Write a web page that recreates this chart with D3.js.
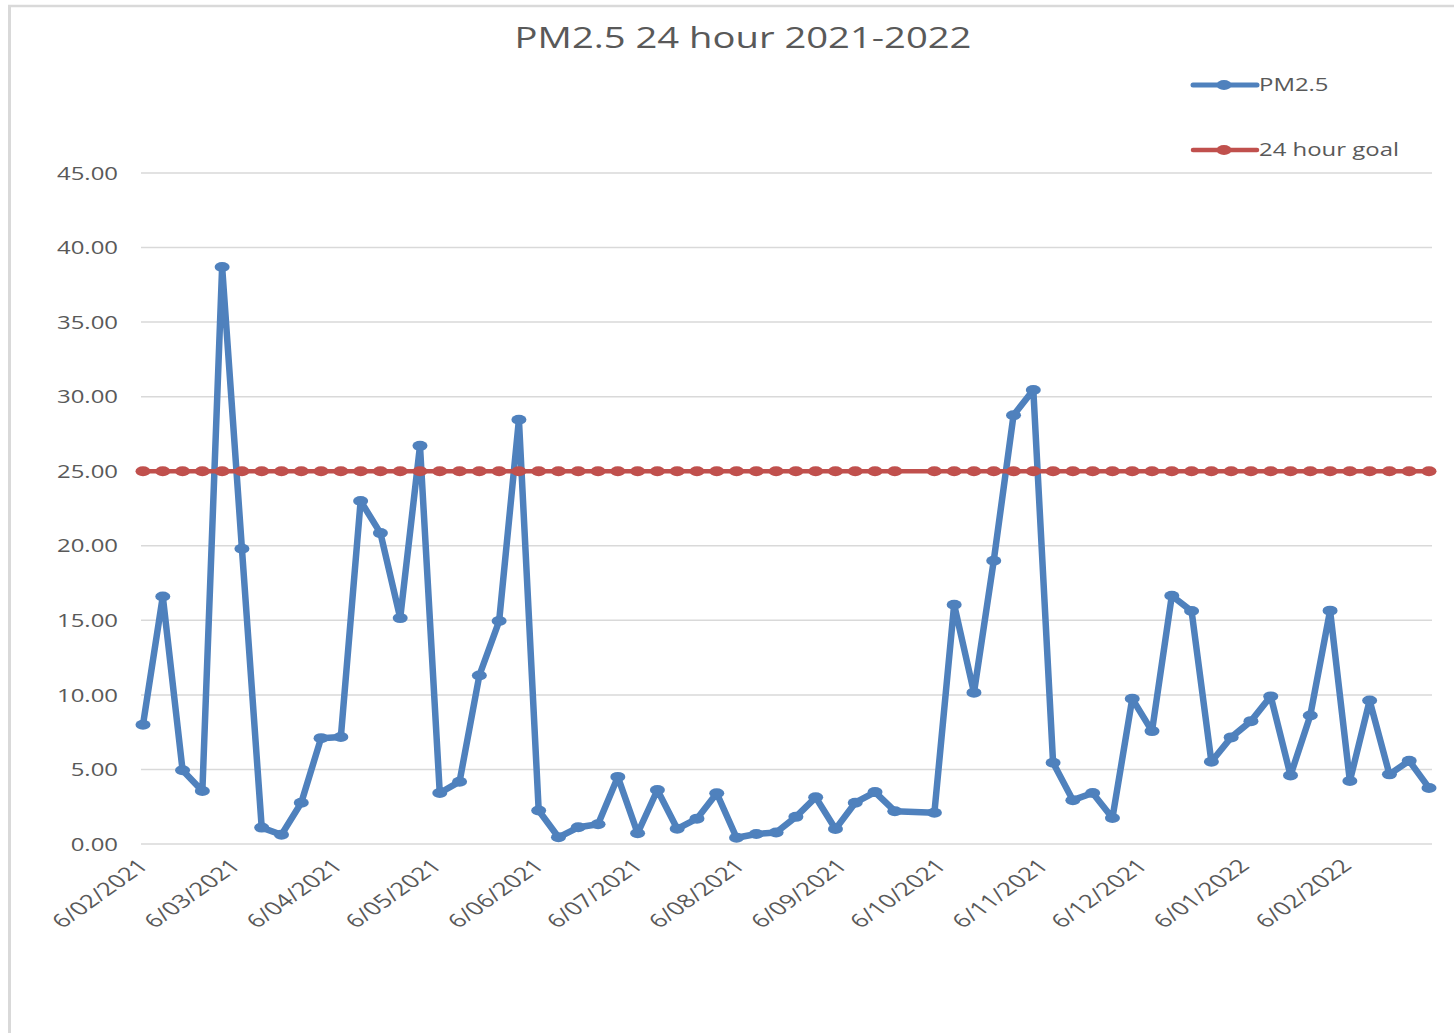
<!DOCTYPE html>
<html>
<head>
<meta charset="utf-8">
<script src="https://cdn.jsdelivr.net/npm/d3@7"></script>
<style>
  html, body { margin: 0; padding: 0; background: #fff; }
  svg { display: block; }
  text { font-family: "Open Sans", "Liberation Sans", sans-serif; fill: #595959; }
</style>
</head>
<body>
<svg id="chart" width="1454" height="1033"></svg>
<script>
// ---------------- DATA ----------------
const chartTitle = "PM2.5 24 hour 2021-2022";
const seriesNames = ["PM2.5", "24 hour goal"];
const sampleDates = [
  "6/02/2021","12/02/2021","18/02/2021","24/02/2021","2/03/2021","8/03/2021","14/03/2021","20/03/2021","26/03/2021",
  "1/04/2021","7/04/2021","13/04/2021","19/04/2021","25/04/2021","1/05/2021","7/05/2021","13/05/2021","19/05/2021",
  "25/05/2021","31/05/2021","6/06/2021","12/06/2021","18/06/2021","24/06/2021","30/06/2021","6/07/2021","12/07/2021",
  "18/07/2021","24/07/2021","30/07/2021","5/08/2021","11/08/2021","17/08/2021","23/08/2021","29/08/2021","4/09/2021",
  "10/09/2021","16/09/2021","22/09/2021","4/10/2021","10/10/2021","16/10/2021","22/10/2021","28/10/2021","3/11/2021",
  "9/11/2021","15/11/2021","21/11/2021","27/11/2021","3/12/2021","9/12/2021","15/12/2021","21/12/2021","27/12/2021",
  "2/01/2022","8/01/2022","14/01/2022","20/01/2022","26/01/2022","1/02/2022","7/02/2022","13/02/2022","19/02/2022",
  "25/02/2022","3/03/2022"
];
const pm25Values = [
  8.0, 16.6, 4.95, 3.55, 38.7, 19.8, 1.1, 0.62, 2.77,
  7.1, 7.18, 23.0, 20.85, 15.15, 26.7, 3.42, 4.18, 11.3,
  14.95, 28.45, 2.25, 0.45, 1.12, 1.33, 4.5, 0.72, 3.62,
  1.02, 1.7, 3.4, 0.42, 0.67, 0.77, 1.82, 3.13, 1.0,
  2.77, 3.48, 2.2, 2.1, 16.05, 10.15, 19.0, 28.75, 30.45,
  5.45, 2.94, 3.42, 1.74, 9.74, 7.57, 16.65, 15.62, 5.52,
  7.15, 8.24, 9.9, 4.6, 8.62, 15.65, 4.22, 9.62, 4.67,
  5.58, 3.76
];
const goalValues = [
  25,25,25,25,25,25,25,25,25, 25,25,25,25,25,25,25,25,25,
  25,25,25,25,25,25,25,25,25, 25,25,25,25,25,25,25,25,25,
  25,25,25,25,25,25,25,25,25, 25,25,25,25,25,25,25,25,25,
  25,25,25,25,25,25,25,25,25, 25,25
];
const xTickLabels = ["6/02/2021","6/03/2021","6/04/2021","6/05/2021","6/06/2021","6/07/2021","6/08/2021",
  "6/09/2021","6/10/2021","6/11/2021","6/12/2021","6/01/2022","6/02/2022"];
const yTickValues = [0, 5, 10, 15, 20, 25, 30, 35, 40, 45];

// ---------------- SETUP ----------------
const parse = d3.timeParse("%d/%m/%Y");
const dates = sampleDates.map(parse);
const pmData = dates.map((d, i) => ({ date: d, value: pm25Values[i] }));
const goalData = dates.map((d, i) => ({ date: d, value: goalValues[i] }));

const svg = d3.select("#chart");
const SX = 1.33; // horizontal text stretch seen in the reference
const blue = "#4F81BD", red = "#C0504D", grid = "#D9D9D9";
const FONT = '"Open Sans", "Liberation Sans", sans-serif';

// chart border (left & top visible)
svg.append("line").attr("x1", 9.5).attr("x2", 9.5).attr("y1", 5).attr("y2", 1033)
  .attr("stroke", grid).attr("stroke-width", 3);
svg.append("line").attr("x1", 8).attr("x2", 1454).attr("y1", 6).attr("y2", 6)
  .attr("stroke", grid).attr("stroke-width", 2.5);

const x = d3.scaleTime()
  .domain([dates[0], dates[dates.length - 1]])
  .range([143, 1429]);
const y = d3.scaleLinear().domain([0, 45]).range([844, 173]);

// gridlines
const gridG = svg.append("g");
gridG.selectAll("line").data(yTickValues).join("line")
  .attr("x1", 141).attr("x2", 1432)
  .attr("y1", d => y(d)).attr("y2", d => y(d))
  .attr("stroke", grid).attr("stroke-width", 1.5);

// y axis labels
const yAxis = d3.axisLeft(y).tickValues(yTickValues).tickFormat(d3.format(".2f")).tickSize(0);
const yG = svg.append("g").attr("transform", "translate(118,0)").call(yAxis);
yG.select(".domain").remove();
yG.selectAll(".tick text")
  .attr("x", 0).attr("dy", "0.34em")
  .attr("transform", `scale(${SX},1)`)
  .style("font-size", "18px").style("fill", "#595959")
  .style("font-family", FONT);

// x axis labels (rotated)
const xTicks = xTickLabels.map(parse);
const xAxis = d3.axisBottom(x).tickValues(xTicks).tickFormat((d, i) => xTickLabels[i]).tickSize(0);
const xG = svg.append("g").attr("transform", "translate(0,844)").call(xAxis);
xG.select(".domain").remove();
xG.selectAll(".tick text")
  .attr("x", null).attr("y", null).attr("dy", null)
  .attr("text-anchor", "end")
  .attr("transform", `translate(6,23) scale(1.4,1) rotate(-45)`)
  .style("font-size", "18.5px").style("fill", "#595959")
  .style("font-family", FONT);

// lines
const line = d3.line().x(d => x(d.date)).y(d => y(d.value));

svg.append("path").datum(pmData).attr("d", line)
  .attr("fill", "none").attr("stroke", blue).attr("stroke-width", 6.5)
  .attr("stroke-linejoin", "round");
svg.append("g").selectAll("ellipse").data(pmData).join("ellipse")
  .attr("cx", d => x(d.date)).attr("cy", d => y(d.value))
  .attr("rx", 7.5).attr("ry", 5).attr("fill", blue);

svg.append("path").datum(goalData).attr("d", line)
  .attr("fill", "none").attr("stroke", red).attr("stroke-width", 4.5)
  .attr("stroke-linejoin", "round");
svg.append("g").selectAll("ellipse").data(goalData).join("ellipse")
  .attr("cx", d => x(d.date)).attr("cy", d => y(d.value))
  .attr("rx", 7.5).attr("ry", 5).attr("fill", red);

// title
svg.append("text")
  .attr("transform", `translate(743,48) scale(1.34,1)`)
  .attr("text-anchor", "middle")
  .style("font-size", "28.5px")
  .text(chartTitle);

// legend
const legendItems = [
  { name: seriesNames[0], color: blue, y: 85, w: 5 },
  { name: seriesNames[1], color: red, y: 150, w: 4.5 }
];
const lg = svg.append("g");
legendItems.forEach(it => {
  lg.append("line").attr("x1", 1193).attr("x2", 1257).attr("y1", it.y).attr("y2", it.y)
    .attr("stroke", it.color).attr("stroke-width", it.w).attr("stroke-linecap", "round");
  lg.append("ellipse").attr("cx", 1224).attr("cy", it.y).attr("rx", 7.5).attr("ry", 5).attr("fill", it.color);
  lg.append("text")
    .attr("transform", `translate(1259,${it.y}) scale(${SX},1)`)
    .attr("dy", "0.35em")
    .style("font-size", "18px")
    .text(it.name);
});
</script>
</body>
</html>
